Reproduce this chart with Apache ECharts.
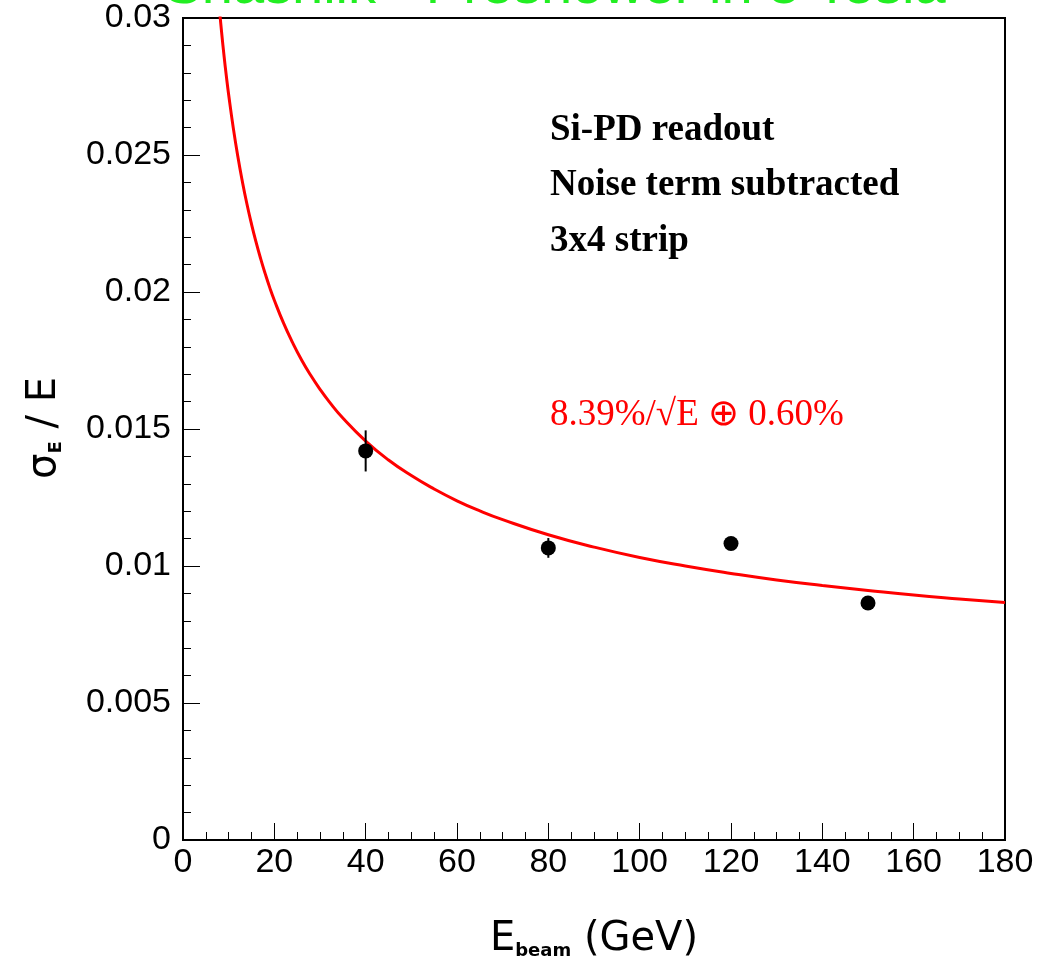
<!DOCTYPE html>
<html>
<head>
<meta charset="utf-8">
<script src="https://cdn.jsdelivr.net/npm/echarts@6/dist/echarts.min.js"></script>
<style>
html,body{margin:0;padding:0;background:#fff;}
#c{width:1040px;height:966px;}
</style>
</head>
<body>
<div id="c"></div>
<script>
// Measured points
const beamEnergy = [40, 80, 120, 150];
const resolution = [0.01420, 0.01066, 0.01082, 0.00865];
const resolutionErr = [0.00075, 0.00036, 0, 0];
// Fit curve (8.39%/sqrt(E) (+) 0.60%)
const fitE = [8, 8.5, 9, 9.5, 10, 11, 12, 13, 14, 15, 16, 17, 18, 19, 20, 22, 24, 26, 28, 30, 32, 35, 40, 45, 50, 55, 60, 65, 70, 80, 90, 100, 110, 120, 130, 140, 150, 160, 170, 180];
const fitRes = [0.03026, 0.02940, 0.02860, 0.02787, 0.02720, 0.02600, 0.02495, 0.02403, 0.02321, 0.02248, 0.02182, 0.02122, 0.02067, 0.02016, 0.01970, 0.01887, 0.01815, 0.01751, 0.01695, 0.01645, 0.01600, 0.01540, 0.01456, 0.01387, 0.01330, 0.01281, 0.01238, 0.01201, 0.01169, 0.01114, 0.01069, 0.01031, 0.01000, 0.00973, 0.00949, 0.00929, 0.00911, 0.00894, 0.00880, 0.00867];
const annotations = ['Si-PD readout', 'Noise term subtracted', '3x4 strip'];
const fitLabel = '8.39%/\u221AE \u2295 0.60%';
const titleText = 'Shashlik - Preshower in 3 Tesla';

const chart = echarts.init(document.getElementById('c'));
const pts = beamEnergy.map((e, i) => [e, resolution[i]]);
const errs = beamEnergy.map((e, i) => [e, resolution[i] - resolutionErr[i], resolution[i] + resolutionErr[i]]);
const fit = fitE.map((e, i) => [e, fitRes[i]]);

const axisLabelStyle = {color: '#000', fontFamily: 'Liberation Sans', fontSize: 34};

chart.setOption({
  animation: false,
  backgroundColor: '#fff',
  grid: {left: 183, right: 35, top: 18, bottom: 126, show: true, borderColor: '#000', borderWidth: 2, backgroundColor: 'transparent'},
  xAxis: {
    type: 'value', min: 0, max: 180, interval: 20,
    axisLine: {show: true, onZero: false, lineStyle: {color: '#000', width: 2}},
    axisTick: {show: true, inside: true, length: 17, lineStyle: {color: '#000', width: 1}},
    minorTick: {show: true, splitNumber: 4, length: 8, lineStyle: {color: '#000', width: 1}},
    splitLine: {show: false},
    axisLabel: Object.assign({margin: 6}, axisLabelStyle)
  },
  yAxis: {
    type: 'value', min: 0, max: 0.03, interval: 0.005,
    axisLine: {show: true, onZero: false, lineStyle: {color: '#000', width: 2}},
    axisTick: {show: true, inside: true, length: 17, lineStyle: {color: '#000', width: 1}},
    minorTick: {show: true, splitNumber: 5, length: 8, lineStyle: {color: '#000', width: 1}},
    splitLine: {show: false},
    axisLabel: Object.assign({margin: 12}, axisLabelStyle)
  },
  series: [
    {
      type: 'line', data: fit, smooth: true, showSymbol: false, clip: true,
      lineStyle: {color: '#ff0000', width: 3}, z: 2
    },
    {
      type: 'custom', data: errs, z: 3,
      renderItem: function (params, api) {
        const p1 = api.coord([api.value(0), api.value(1)]);
        const p2 = api.coord([api.value(0), api.value(2)]);
        return {type: 'line', shape: {x1: p1[0], y1: p1[1], x2: p2[0], y2: p2[1]}, style: {stroke: '#000', lineWidth: 2}};
      }
    },
    {
      type: 'scatter', data: pts, symbol: 'circle', symbolSize: 15,
      itemStyle: {color: '#000', opacity: 1}, z: 4
    }
  ],
  graphic: [
    {type: 'text', x: 555, y: 16, style: {text: titleText, fill: '#22ee22', font: '56px "Liberation Sans"', textAlign: 'center', textVerticalAlign: 'bottom'}, z: -1},
    {type: 'text', x: 550, y: 130, style: {text: annotations[0], fill: '#000', font: 'bold 37px "Liberation Serif"', textVerticalAlign: 'middle'}},
    {type: 'text', x: 550, y: 185, style: {text: annotations[1], fill: '#000', font: 'bold 37px "Liberation Serif"', textVerticalAlign: 'middle'}},
    {type: 'text', x: 550, y: 241, style: {text: annotations[2], fill: '#000', font: 'bold 37px "Liberation Serif"', textVerticalAlign: 'middle'}},
    {type: 'text', x: 550, y: 415, style: {text: fitLabel, fill: '#ff0000', font: '37px "Liberation Serif"', textVerticalAlign: 'middle'}},
    {type: 'text', x: 594, y: 935, style: {
      text: '{a|E}{s|beam}{a| (GeV)}', textAlign: 'center', textVerticalAlign: 'middle',
      rich: {
        a: {fontFamily: 'DejaVu Sans', fontSize: 40, fill: '#000', color: '#000', verticalAlign: 'bottom', lineHeight: 50},
        s: {fontFamily: 'DejaVu Sans', fontWeight: 'bold', fontSize: 18, fill: '#000', color: '#000', verticalAlign: 'bottom', lineHeight: 40}
      }
    }},
    {type: 'text', x: 40, y: 428, rotation: Math.PI / 2, style: {
      text: '{a|\u03C3}{s|E}{a| / E}', textAlign: 'center', textVerticalAlign: 'middle',
      rich: {
        a: {fontFamily: 'DejaVu Sans', fontSize: 40, fill: '#000', color: '#000', verticalAlign: 'bottom', lineHeight: 50},
        s: {fontFamily: 'DejaVu Sans', fontWeight: 'bold', fontSize: 18, fill: '#000', color: '#000', verticalAlign: 'bottom', lineHeight: 40}
      }
    }}
  ]
});
</script>
</body>
</html>
